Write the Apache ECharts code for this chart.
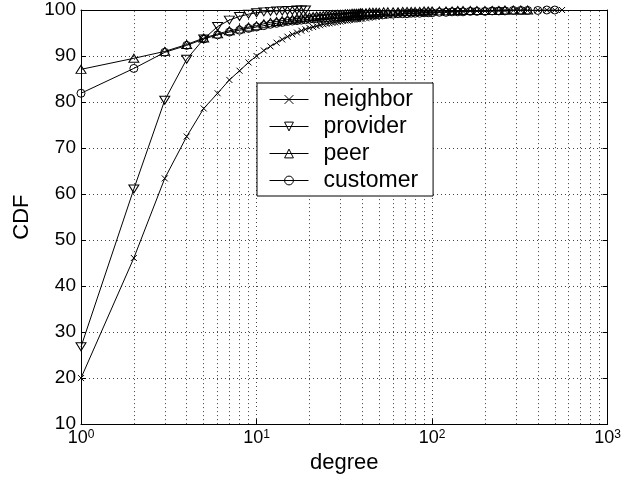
<!DOCTYPE html>
<html>
<head>
<meta charset="utf-8">
<script src="https://cdn.jsdelivr.net/npm/echarts@6/dist/echarts.min.js"></script>
<style>
  html, body { margin: 0; padding: 0; background: #fff; }
  #chart { width: 624px; height: 479px; }
</style>
</head>
<body>
<div id="chart"></div>
<script>
// degree values where a marker is drawn (shared x for all series)
const degrees = [
  1, 2, 3, 4, 5, 6, 7, 8, 9, 10,
  11, 12, 13, 14, 15, 16, 17, 18, 19, 20,
  21, 22, 23, 24, 25, 26, 27, 28, 29, 30,
  31, 32, 33, 34, 35, 36, 37, 38, 39, 40,
  42, 44, 46, 48, 50, 53, 56, 60, 64, 68, 72, 76, 80, 85, 90, 95, 100,
  110, 120, 130, 140, 150, 165, 180, 200, 220, 240, 260, 290, 320, 350,
  400, 450, 500, 550
]

const neighbor = [
  20.0, 46.1, 63.4, 72.5, 78.6, 81.9, 84.8, 86.8, 88.6, 90.0,
  91.2, 92.1, 92.9, 93.6, 94.2, 94.7, 95.1, 95.5, 95.8, 96.1,
  96.3, 96.5, 96.7, 96.9, 97.0, 97.1, 97.2, 97.3, 97.4, 97.5,
  97.6, 97.7, 97.7, 97.8, 97.9, 97.9, 98.0, 98.0, 98.1, 98.1,
  98.2, 98.3, 98.4, 98.5, 98.6, 98.7, 98.8, 98.9, 99.0, 99.1, 99.2, 99.2, 99.3, 99.4, 99.4, 99.5, 99.5,
  99.6, 99.6, 99.7, 99.7, 99.7, 99.8, 99.8, 99.8, 99.8, 99.9, 99.9, 99.9, 99.9, 99.9,
  100, 100, 100, 100
]

const provider = [
  26.8, 61.1, 80.4, 89.3, 93.7, 96.4, 97.8, 98.6, 99.1, 99.4,
  99.6, 99.7, 99.8, 99.8, 99.9, 99.9, 100, 100, 100
]

const peer = [
  87.1, 89.5, 91.0, 92.5, 93.9, 94.8, 95.5, 95.9, 96.3, 96.6,
  97.0, 97.3, 97.5, 97.7, 97.9, 98.0, 98.2, 98.3, 98.4, 98.5,
  98.6, 98.7, 98.7, 98.8, 98.9, 98.9, 99.0, 99.0, 99.1, 99.1,
  99.1, 99.2, 99.2, 99.2, 99.3, 99.3, 99.3, 99.3, 99.4, 99.4,
  99.4, 99.5, 99.5, 99.5, 99.5, 99.6, 99.6, 99.6, 99.6, 99.7, 99.7, 99.7, 99.7, 99.7, 99.8, 99.8, 99.8,
  99.8, 99.8, 99.8, 99.9, 99.9, 99.9, 99.9, 99.9, 99.9, 99.9, 100, 100, 100, 100
]

const customer = [
  81.9, 87.3, 90.8, 92.3, 93.7, 94.6, 95.2, 95.6, 96.0, 96.3,
  96.6, 96.9, 97.1, 97.3, 97.5, 97.6, 97.7, 97.8, 97.9, 98.0,
  98.1, 98.1, 98.2, 98.2, 98.3, 98.3, 98.4, 98.4, 98.5, 98.5,
  98.5, 98.6, 98.6, 98.6, 98.7, 98.7, 98.7, 98.8, 98.8, 98.8,
  98.9, 98.9, 98.9, 99.0, 99.0, 99.0, 99.1, 99.1, 99.2, 99.2, 99.2, 99.3, 99.3, 99.3, 99.4, 99.4, 99.4,
  99.5, 99.5, 99.6, 99.6, 99.6, 99.7, 99.7, 99.7, 99.8, 99.8, 99.8, 99.9, 99.9, 99.9,
  99.9, 100, 100
]

// minor vertical grid lines of the log axis
const minorGrid = [2, 3, 4, 5, 6, 7, 8, 9, 20, 30, 40, 50, 60, 70, 80, 90, 200, 300, 400, 500, 600, 700, 800, 900]

const FONT = '"Liberation Sans", Arial, Helvetica, sans-serif'
const dotted = { color: '#444', width: 1, type: [1, 3] }

function pairs(vals) {
  return vals.map((v, i) => [degrees[i], v])
}

function lineSeries(name, vals, symbol, size, extra) {
  return Object.assign({
    name: name,
    type: 'line',
    data: pairs(vals),
    symbol: symbol,
    symbolSize: size,
    showAllSymbol: true,
    lineStyle: { color: '#000', width: 1 },
    itemStyle: { color: 'rgba(255,255,255,0)', borderColor: '#000', borderWidth: 1 },
    emphasis: { disabled: true },
    z: 3
  }, extra || {})
}

const chart = echarts.init(document.getElementById('chart'), null, { renderer: 'canvas' })

chart.setOption({
  animation: false,
  backgroundColor: '#fff',
  textStyle: { fontFamily: FONT },
  grid: { left: 81, right: 12, top: 10, bottom: 49 },
  legend: {
    left: 257,
    top: 83,
    orient: 'vertical',
    itemWidth: 39,
    itemHeight: 11,
    itemGap: 4,
    padding: [5, 15, 4, 12],
    borderColor: '#000',
    borderWidth: 1,
    backgroundColor: '#fff',
    itemStyle: { borderWidth: 1 },
    lineStyle: { width: 1 },
    textStyle: { fontSize: 23, fontFamily: FONT, color: '#000', padding: [0, 0, 0, 10] },
    data: ['neighbor', 'provider', 'peer', 'customer']
  },
  xAxis: [
    {
      type: 'log', logBase: 10, min: 1, max: 1000,
      name: 'degree', nameLocation: 'middle', nameGap: 24,
      nameTextStyle: { fontSize: 22, color: '#000', fontFamily: FONT },
      axisLine: { lineStyle: { color: '#000', width: 1 } },
      axisTick: { inside: true, length: 5, lineStyle: { color: '#000' } },
      axisLabel: {
        margin: 5,
        color: '#000',
        formatter: v => '{b|10}{s|' + Math.round(Math.log10(v)) + '}',
        rich: {
          b: { fontSize: 18, fontFamily: FONT, color: '#000' },
          s: { fontSize: 12, fontFamily: FONT, color: '#000', verticalAlign: 'top' }
        }
      },
      splitLine: { show: true, lineStyle: dotted },
      minorTick: { show: false },
      minorSplitLine: { show: false }
    },
    {
      type: 'log', logBase: 10, min: 1, max: 1000, position: 'top',
      axisLine: { lineStyle: { color: '#000', width: 1 } },
      axisTick: { inside: true, length: 5, lineStyle: { color: '#000' } },
      axisLabel: { show: false },
      splitLine: { show: false }
    }
  ],
  yAxis: [
    {
      type: 'value', min: 10, max: 100, interval: 10,
      name: 'CDF', nameLocation: 'middle', nameGap: 44,
      nameTextStyle: { fontSize: 22, color: '#000', fontFamily: FONT },
      axisLine: { show: true, lineStyle: { color: '#000', width: 1 } },
      axisTick: { show: true, inside: true, length: 5, lineStyle: { color: '#000' } },
      axisLabel: { fontSize: 19, color: '#000', margin: 5, fontFamily: FONT },
      splitLine: { show: true, lineStyle: dotted }
    },
    {
      type: 'value', min: 10, max: 100, interval: 10, position: 'right',
      axisLine: { show: true, lineStyle: { color: '#000', width: 1 } },
      axisTick: { show: true, inside: true, length: 5, lineStyle: { color: '#000' } },
      axisLabel: { show: false },
      splitLine: { show: false }
    }
  ],
  series: [
    lineSeries('neighbor', neighbor, 'path://M0,0L10,10M10,0L0,10', 6, {
      markLine: {
        silent: true,
        symbol: 'none',
        label: { show: false },
        lineStyle: dotted,
        z: 1,
        data: minorGrid.map(d => ({ xAxis: d }))
      }
    }),
    lineSeries('provider', provider, 'triangle', [10, 8], { symbolRotate: 180 }),
    lineSeries('peer', peer, 'triangle', [10, 8]),
    lineSeries('customer', customer, 'circle', 8)
  ]
})
</script>
</body>
</html>
